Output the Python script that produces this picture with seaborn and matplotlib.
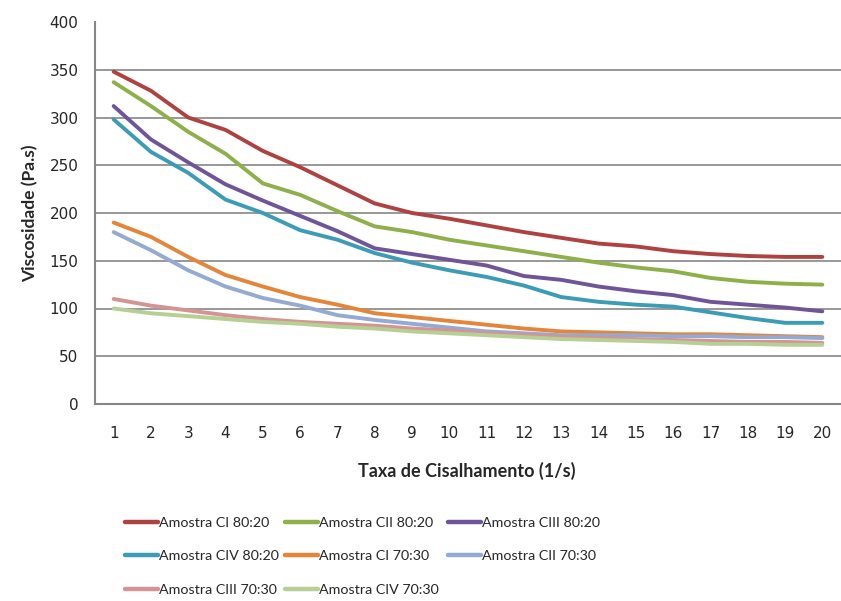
import numpy as np
import pandas as pd
import matplotlib
matplotlib.use("Agg")
import matplotlib.pyplot as plt
import seaborn as sns

# Shear rate categories (1/s)
shear_rate = list(range(1, 21))

# Viscosity (Pa.s) per sample
ci_80_20 = [348, 328, 300, 287, 265, 248, 229, 210, 200, 194, 187, 180, 174, 168, 165, 160, 157, 155, 154, 154]
cii_80_20 = [337, 312, 285, 262, 231, 219, 202, 186, 180, 172, 166, 160, 154, 148, 143, 139, 132, 128, 126, 125]
ciii_80_20 = [312, 277, 253, 230, 213, 197, 181, 163, 157, 151, 145, 134, 130, 123, 118, 114, 107, 104, 101, 97]
civ_80_20 = [298, 264, 242, 214, 200, 182, 172, 158, 148, 140, 133, 124, 112, 107, 104, 102, 96, 90, 85, 85]
ci_70_30 = [190, 175, 154, 135, 123, 112, 104, 95, 91, 87, 83, 79, 76, 75, 74, 73, 73, 72, 71, 70]
cii_70_30 = [180, 161, 140, 123, 111, 103, 93, 88, 84, 80, 76, 74, 72, 72, 72, 71, 71, 70, 70, 69]
ciii_70_30 = [110, 103, 98, 93, 89, 86, 84, 82, 79, 77, 74, 72, 70, 69, 68, 67, 66, 65, 65, 64]
civ_70_30 = [100, 95, 92, 89, 86, 84, 81, 79, 76, 74, 72, 70, 68, 67, 66, 65, 63, 63, 62, 62]

series_names = [
    "Amostra CI 80:20", "Amostra CII 80:20", "Amostra CIII 80:20",
    "Amostra CIV 80:20", "Amostra CI 70:30", "Amostra CII 70:30",
    "Amostra CIII 70:30", "Amostra CIV 70:30",
]
series_values = [ci_80_20, cii_80_20, ciii_80_20, civ_80_20,
                 ci_70_30, cii_70_30, ciii_70_30, civ_70_30]
colors = ["#AE4240", "#8DB04A", "#6F5597", "#3C9CB5",
          "#E5853A", "#93AAD2", "#D69393", "#B5CF94"]

y_ticks = [0, 50, 100, 150, 200, 250, 300, 350, 400]

rows = []
for name, vals in zip(series_names, series_values):
    for x, v in zip(shear_rate, vals):
        rows.append({"Taxa": x, "Viscosidade": v, "Amostra": name})
df = pd.DataFrame(rows)

sns.set_style("white")
plt.rcParams["font.family"] = ["Lato", "DejaVu Sans"]

fig = plt.figure(figsize=(8.41, 6.01), dpi=100)
ax = fig.add_axes([95 / 841, 1 - 404 / 601, 1 - 95 / 841, (404 - 22) / 601])

sns.lineplot(data=df, x="Taxa", y="Viscosidade", hue="Amostra",
             hue_order=series_names, palette=colors, linewidth=2.8,
             ax=ax, legend=True)

axis_grey = "#868686"
tick_font = {"family": ["DejaVu Sans"], "size": 11}
ax.set_xlim(0.5, 20.24)
ax.set_ylim(0, 400)
ax.set_yticks(y_ticks)
ax.set_yticklabels([str(t) for t in y_ticks], fontdict=tick_font)
ax.set_xticks(shear_rate)
ax.set_xticklabels([str(x) for x in shear_rate], fontdict=tick_font)
ax.set_xticks(np.arange(0.5, 21, 1.0), minor=True)
ax.tick_params(axis="x", which="major", length=0, pad=16)
ax.tick_params(axis="x", which="minor", length=6, width=1.2, color=axis_grey, direction="out")
ax.tick_params(axis="y", which="major", length=6, width=1.2, color=axis_grey, direction="out", pad=6)

for y in y_ticks[1:-1]:
    ax.axhline(y, color=axis_grey, linewidth=1.2, zorder=0)

for side in ["top", "right"]:
    ax.spines[side].set_visible(False)
for side in ["left", "bottom"]:
    ax.spines[side].set_color(axis_grey)
    ax.spines[side].set_linewidth(1.5)

ax.set_xlabel("Taxa de Cisalhamento (1/s)", fontsize=13, fontweight="bold")
ax.set_ylabel("Viscosidade (Pa.s)", fontsize=12.5, fontweight="bold", labelpad=8)
ax.xaxis.set_label_coords((467 - 95) / 746, -58 / 382)

# Legend laid out as a 3-column grid with evenly spaced columns
handles, labels = ax.get_legend_handles_labels()
ax.get_legend().remove()
for h in handles:
    h.set_linewidth(3.2)
column_left = [119, 279, 442]
for col, x0 in enumerate(column_left):
    idx = list(range(col, len(handles), 3))
    fig.legend([handles[i] for i in idx], [labels[i] for i in idx],
               loc="upper left", bbox_to_anchor=(x0 / 841, 1 - 511 / 601),
               ncol=1, frameon=False, fontsize=10.3, handlelength=2.3,
               handletextpad=0.08, labelspacing=1.52, borderaxespad=0)

fig.savefig("out.png", dpi=100)
